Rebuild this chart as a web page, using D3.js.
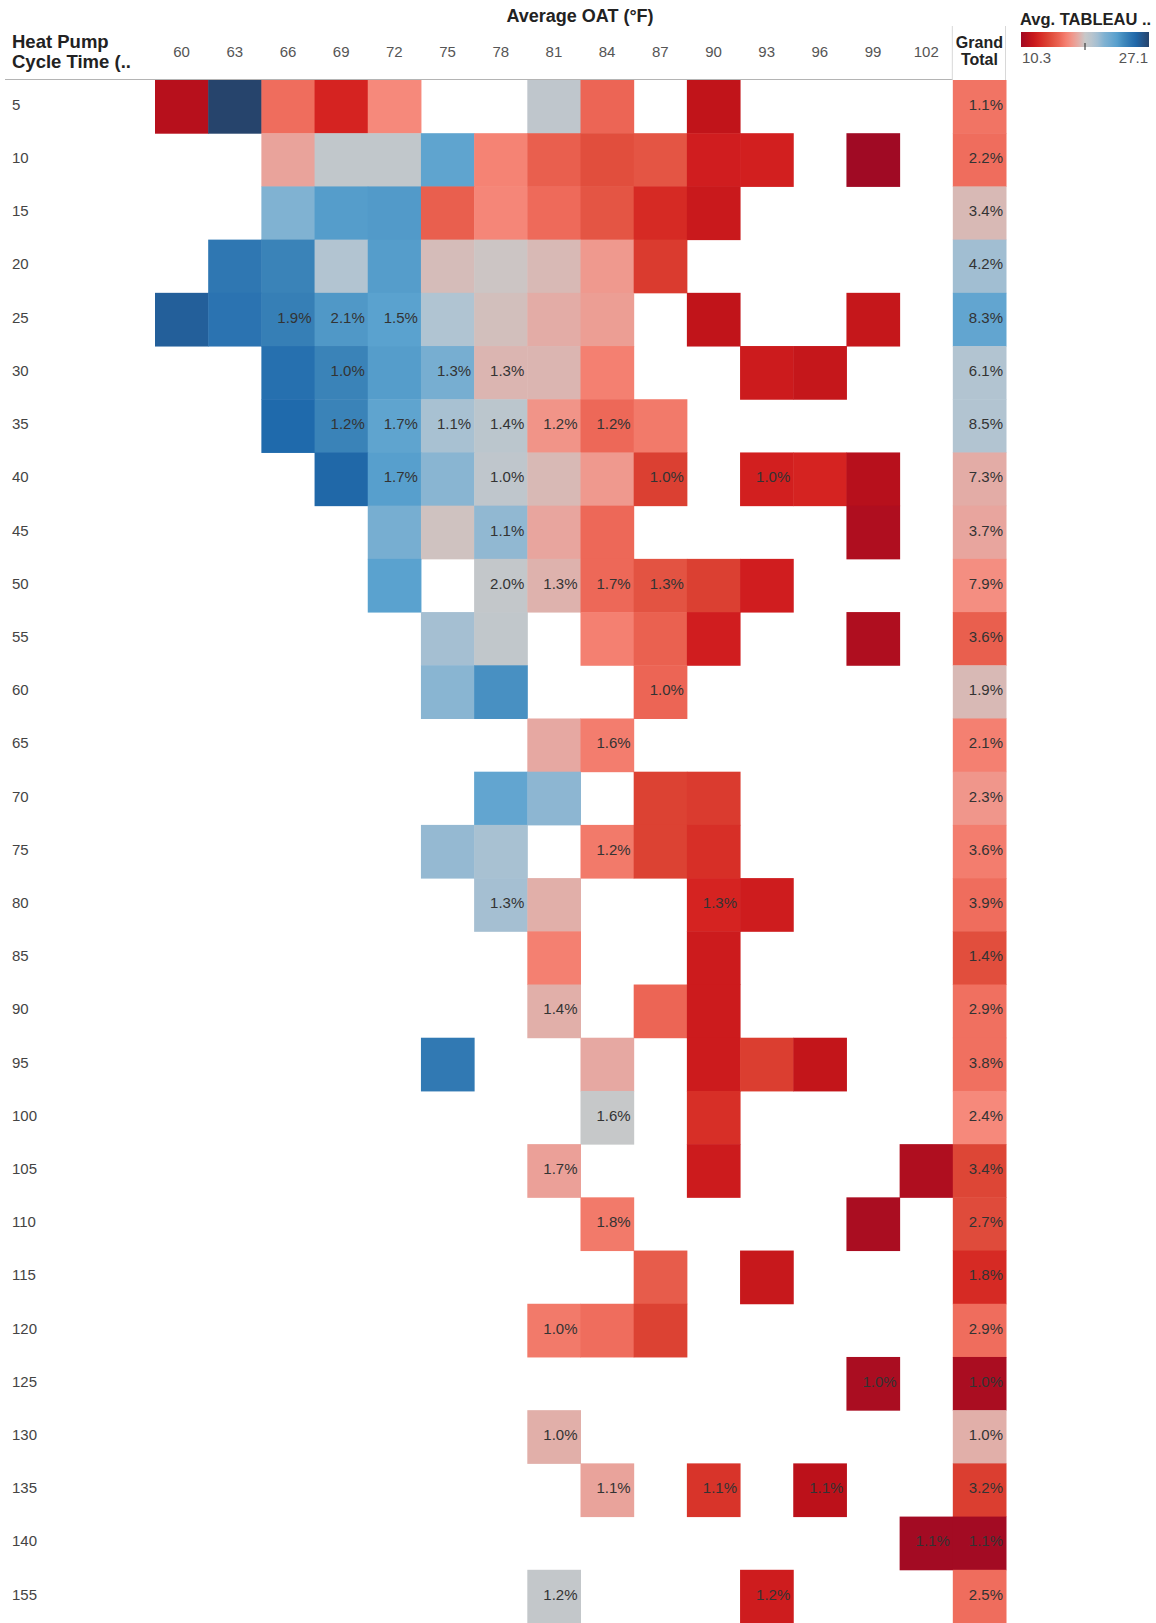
<!DOCTYPE html>
<html>
<head>
<meta charset="utf-8">
<script src="https://cdn.jsdelivr.net/npm/d3@7"></script>
<style>
  body { margin: 0; background: #fff; }
  svg { display: block; font-family: "Liberation Sans", Arial, sans-serif; }
</style>
</head>
<body>
<svg width="1156" height="1623"></svg>
<script>
// heat pump cycle time vs average OAT, coloured by avg TABLEAU value
const cycleTimes = [5, 10, 15, 20, 25, 30, 35, 40, 45, 50, 55, 60, 65, 70, 75, 80, 85, 90, 95,
  100, 105, 110, 115, 120, 125, 130, 135, 140, 155];
const oatBins = [60, 63, 66, 69, 72, 75, 78, 81, 84, 87, 90, 93, 96, 99, 102];

// [cycle time, OAT, avg value, % of total (only when labelled)]
const cells = [
  [5, 60, 11.2], [5, 63, 27.1], [5, 66, 15.6], [5, 69, 12.6], [5, 72, 16.5], [5, 81, 19.2], [5, 84, 15.3], [5, 90, 11.6],
  [10, 66, 17.5], [10, 69, 19.1], [10, 72, 19.1], [10, 75, 22.6], [10, 78, 16.3], [10, 81, 15.0], [10, 84, 14.3],
  [10, 87, 14.6], [10, 90, 12.3], [10, 93, 12.4], [10, 99, 10.3],
  [15, 66, 21.2], [15, 69, 23.0], [15, 72, 23.1], [15, 75, 15.0], [15, 78, 16.4], [15, 81, 15.5], [15, 84, 14.6],
  [15, 87, 12.8], [15, 90, 12.0],
  [20, 63, 24.6], [20, 66, 24.0], [20, 69, 19.9], [20, 72, 23.0], [20, 75, 18.3], [20, 78, 18.6], [20, 81, 18.2],
  [20, 84, 17.1], [20, 87, 13.5],
  [25, 60, 25.8], [25, 63, 24.8], [25, 66, 24.2, 1.9], [25, 69, 23.2, 2.1], [25, 72, 22.8, 1.5], [25, 75, 20.0],
  [25, 78, 18.4], [25, 81, 17.8], [25, 84, 17.3], [25, 90, 11.6], [25, 99, 11.8],
  [30, 66, 25.0], [30, 69, 24.0, 1.0], [30, 72, 23.0], [30, 75, 21.6, 1.3], [30, 78, 18.1, 1.3], [30, 81, 18.1],
  [30, 84, 16.2], [30, 93, 12.1], [30, 96, 11.8],
  [35, 66, 25.3], [35, 69, 24.0, 1.2], [35, 72, 22.6, 1.7], [35, 75, 20.2, 1.1], [35, 78, 19.4, 1.4],
  [35, 81, 16.9, 1.2], [35, 84, 15.4, 1.2], [35, 87, 16.0],
  [40, 69, 25.4], [40, 72, 22.9, 1.7], [40, 75, 21.0], [40, 78, 19.2, 1.0], [40, 81, 18.2], [40, 84, 17.1],
  [40, 87, 13.7, 1.0], [40, 93, 12.4, 1.0], [40, 96, 12.6], [40, 99, 11.2],
  [45, 72, 21.6], [45, 75, 18.5], [45, 78, 20.8, 1.1], [45, 81, 17.6], [45, 84, 15.4], [45, 99, 10.9],
  [50, 72, 22.8], [50, 78, 19.0, 2.0], [50, 81, 18.0, 1.3], [50, 84, 15.4, 1.7], [50, 87, 14.5, 1.3],
  [50, 90, 13.7], [50, 93, 12.3],
  [55, 75, 20.3], [55, 78, 19.1], [55, 84, 16.2], [55, 87, 15.1], [55, 90, 12.3], [55, 99, 10.9],
  [60, 75, 21.0], [60, 78, 23.5], [60, 87, 15.3, 1.0],
  [65, 81, 17.7], [65, 84, 16.1, 1.6],
  [70, 78, 22.5], [70, 81, 20.9], [70, 87, 13.8], [70, 90, 13.5],
  [75, 75, 20.7], [75, 78, 20.2], [75, 84, 16.0, 1.2], [75, 87, 13.8], [75, 90, 13.0],
  [80, 78, 20.3, 1.3], [80, 81, 17.9], [80, 90, 12.6, 1.3], [80, 93, 12.2],
  [85, 81, 16.2], [85, 90, 12.1],
  [90, 81, 17.9, 1.4], [90, 87, 15.3], [90, 90, 12.1],
  [95, 75, 24.5], [95, 84, 17.7], [95, 90, 12.1], [95, 93, 13.6], [95, 96, 11.7],
  [100, 84, 18.8, 1.6], [100, 90, 13.0],
  [105, 81, 17.4, 1.7], [105, 90, 12.1], [105, 102, 10.9],
  [110, 84, 16.0, 1.8], [110, 99, 10.7],
  [115, 87, 14.9], [115, 93, 11.9],
  [120, 81, 16.0, 1.0], [120, 84, 15.6], [120, 87, 13.8],
  [125, 99, 10.7, 1.0],
  [130, 81, 17.9, 1.0],
  [135, 84, 17.5, 1.1], [135, 90, 13.2, 1.1], [135, 96, 11.4, 1.1],
  [140, 102, 10.4, 1.1],
  [155, 81, 19.0, 1.2], [155, 93, 12.2, 1.2]
];

const totalAvg = [15.8, 15.6, 18.2, 20.4, 22.5, 19.9, 19.9, 17.8, 17.6, 16.7, 15.0, 18.2, 16.2, 17.0, 16.1,
  15.6, 14.3, 15.7, 15.7, 16.5, 14.0, 14.2, 12.8, 15.6, 10.7, 17.9, 13.6, 10.4, 15.6];
const totalPct = [1.1, 2.2, 3.4, 4.2, 8.3, 6.1, 8.5, 7.3, 3.7, 7.9, 3.6, 1.9, 2.1, 2.3, 3.6,
  3.9, 1.4, 2.9, 3.8, 2.4, 3.4, 2.7, 1.8, 2.9, 1.0, 1.0, 3.2, 1.1, 2.5];

const legendMin = 10.3, legendMax = 27.1;

const svg = d3.select('svg');
const GT = 'Grand Total';

const x = d3.scaleBand()
  .domain(oatBins.concat([GT]))
  .range([155, 1006]);
const y = d3.scaleBand()
  .domain(cycleTimes)
  .range([80, 1623]);

// red-blue diverging, centred on the middle of the range
const color = d3.scaleLinear()
  .domain([10.3, 11.5, 12.5, 14, 15.5, 16.5, 17.6, 18.7, 20, 21.2, 22.8, 24, 25.3, 27.1])
  .range(['#a00a24', '#bf1219', '#d42020', '#dd4636', '#ee6a5a', '#f6897b', '#e8a59e', '#c8c8c8',
    '#b0c4d2', '#80b2d2', '#5aa2cf', '#3a83b8', '#1f6aac', '#26446c'])
  .interpolate(d3.interpolateLab)
  .clamp(true);

const totals = cycleTimes.map((c, i) => [c, GT, totalAvg[i], totalPct[i]]);
const all = cells.concat(totals);

const grid = svg.append('g');
grid.selectAll('rect')
  .data(all)
  .enter()
  .append('rect')
  .attr('x', d => x(d[1]))
  .attr('y', d => y(d[0]))
  .attr('width', x.bandwidth() + 0.5)
  .attr('height', y.bandwidth() + 0.5)
  .attr('fill', d => color(d[2]));

grid.selectAll('.pct')
  .data(all.filter(d => d[3] != null))
  .enter()
  .append('text')
  .attr('x', d => x(d[1]) + x.bandwidth() - 3)
  .attr('y', d => y(d[0]) + y.bandwidth() / 2 - 2)
  .attr('dy', '0.35em')
  .attr('text-anchor', 'end')
  .attr('font-size', 15)
  .attr('fill', '#333')
  .text(d => d[3].toFixed(1) + '%');

// row labels
svg.append('g').selectAll('text')
  .data(cycleTimes)
  .enter()
  .append('text')
  .attr('x', 12)
  .attr('y', d => y(d) + y.bandwidth() / 2 - 2)
  .attr('dy', '0.35em')
  .attr('font-size', 15)
  .attr('fill', '#444')
  .text(d => d);

// column labels
svg.append('g').selectAll('text')
  .data(oatBins)
  .enter()
  .append('text')
  .attr('x', d => x(d) + x.bandwidth() / 2)
  .attr('y', 57)
  .attr('text-anchor', 'middle')
  .attr('font-size', 15)
  .attr('fill', '#555')
  .text(d => d);

// header
svg.append('text').attr('x', 580).attr('y', 22).attr('text-anchor', 'middle')
  .attr('font-size', 18).attr('font-weight', 700).attr('fill', '#222').text('Average OAT (°F)');
svg.append('text').attr('x', 12).attr('y', 48)
  .attr('font-size', 18.5).attr('font-weight', 700).attr('fill', '#222').text('Heat Pump');
svg.append('text').attr('x', 12).attr('y', 68)
  .attr('font-size', 18.5).attr('font-weight', 700).attr('fill', '#222').text('Cycle Time (..');
svg.append('text').attr('x', x(GT) + x.bandwidth() / 2).attr('y', 48).attr('text-anchor', 'middle')
  .attr('font-size', 16).attr('font-weight', 700).attr('fill', '#222').text('Grand');
svg.append('text').attr('x', x(GT) + x.bandwidth() / 2).attr('y', 65).attr('text-anchor', 'middle')
  .attr('font-size', 16).attr('font-weight', 700).attr('fill', '#222').text('Total');

svg.append('line').attr('x1', 5).attr('x2', x(GT)).attr('y1', 79.5).attr('y2', 79.5)
  .attr('stroke', '#b4b4b4').attr('stroke-width', 1);
[x(GT), x(GT) + x.bandwidth()].forEach(v => {
  svg.append('line').attr('x1', v - 0.5).attr('x2', v - 0.5).attr('y1', 26).attr('y2', 80)
    .attr('stroke', '#d8d8d8').attr('stroke-width', 1);
});

// legend
const lg = svg.append('g');
const grad = svg.append('defs').append('linearGradient').attr('id', 'lgrad');
d3.range(0, 1.0001, 0.05).forEach(t => {
  grad.append('stop').attr('offset', t)
    .attr('stop-color', color(legendMin + t * (legendMax - legendMin)));
});
const lx = d3.scaleLinear().domain([legendMin, legendMax]).range([1021, 1149]);
lg.append('text').attr('x', 1020).attr('y', 25).attr('font-size', 16.5).attr('font-weight', 700)
  .attr('fill', '#222').text('Avg. TABLEAU ..');
lg.append('rect').attr('x', lx(legendMin)).attr('y', 32).attr('width', lx(legendMax) - lx(legendMin))
  .attr('height', 15).attr('fill', 'url(#lgrad)');
lg.append('line').attr('x1', lx((legendMin + legendMax) / 2)).attr('x2', lx((legendMin + legendMax) / 2))
  .attr('y1', 43).attr('y2', 50).attr('stroke', '#222').attr('stroke-width', 1);
lg.append('text').attr('x', lx(legendMin) + 1).attr('y', 63).attr('font-size', 15).attr('fill', '#555')
  .text(legendMin);
lg.append('text').attr('x', lx(legendMax) - 1).attr('y', 63).attr('text-anchor', 'end')
  .attr('font-size', 15).attr('fill', '#555').text(legendMax);
</script>
</body>
</html>
